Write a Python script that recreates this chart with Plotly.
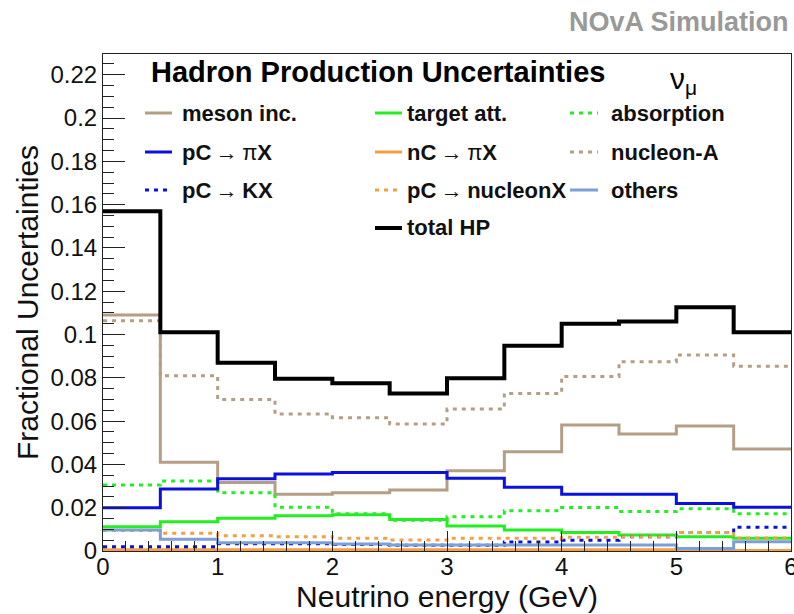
import plotly.graph_objects as go

# Bin edges in neutrino energy (GeV)
edges = [0.0, 0.5, 1.0, 1.5, 2.0, 2.5, 3.0, 3.5, 4.0, 4.5, 5.0, 5.5, 6.0]

# Fractional uncertainty per bin for each hadron-production component
meson_inc = [0.109, 0.041, 0.0316, 0.0262, 0.0269, 0.0282, 0.0371, 0.0459, 0.0582, 0.0540, 0.0577, 0.0471]
target_att = [0.0112, 0.0135, 0.0151, 0.0163, 0.0168, 0.0146, 0.0115, 0.0097, 0.0085, 0.0074, 0.0066, 0.0059]
absorption = [0.0305, 0.0323, 0.0269, 0.0202, 0.0172, 0.0142, 0.0158, 0.0186, 0.0201, 0.0183, 0.0195, 0.0172]
pc_pix = [0.0200, 0.0286, 0.0334, 0.0356, 0.0363, 0.0363, 0.0336, 0.0294, 0.0262, 0.0262, 0.0220, 0.0202]
nc_pix = [0.0006, 0.0006, 0.0006, 0.0006, 0.0006, 0.0006, 0.0006, 0.0006, 0.0006, 0.0006, 0.0002, 0.0002]
nucleon_a = [0.1064, 0.0810, 0.0700, 0.0633, 0.0616, 0.0587, 0.0656, 0.0728, 0.0806, 0.0874, 0.0905, 0.0854]
pc_kx = [0.0020, 0.0020, 0.0034, 0.0034, 0.0030, 0.0027, 0.0027, 0.0041, 0.0050, 0.0066, 0.0086, 0.0110]
pc_nucleonx = [0.0095, 0.0082, 0.0071, 0.0066, 0.0059, 0.0051, 0.0059, 0.0059, 0.0063, 0.0066, 0.0086, 0.0060]
others = [0.0097, 0.0054, 0.0038, 0.0038, 0.0032, 0.0028, 0.0028, 0.0028, 0.0028, 0.0028, 0.0012, 0.0043]
total_hp = [0.157, 0.101, 0.087, 0.0796, 0.0775, 0.0728, 0.0798, 0.0948, 0.1050, 0.1060, 0.1126, 0.1010]

labels = ["meson inc.", "target att.", "absorption",
          "pC → πX", "nC → πX", "nucleon-A",
          "pC → KX", "pC → nucleonX", "others", "total HP"]

FONT = "Liberation Sans, Arial, Helvetica, sans-serif"
DOT = "4px,5px"

series = [
    (meson_inc, "#b59e86", "solid", 3),
    (target_att, "#22ee22", "solid", 3),
    (absorption, "#22ee22", DOT, 3),
    (pc_pix, "#0a10e0", "solid", 3),
    (nc_pix, "#f5a040", "solid", 3),
    (nucleon_a, "#b59e86", DOT, 3),
    (pc_kx, "#0a10e0", DOT, 3),
    (pc_nucleonx, "#f5a040", DOT, 3),
    (others, "#7d9fd6", "solid", 3),
    (total_hp, "#000000", "solid", 4),
]

fig = go.Figure()
for (vals, color, dash, width), name in zip(series, labels):
    fig.add_trace(go.Scatter(
        x=edges, y=list(vals) + [vals[-1]], mode="lines", name=name,
        line=dict(color=color, dash=dash, width=width, shape="hv"),
        showlegend=False, hoverinfo="skip",
    ))

# Plot-area geometry in pixels (used to place legend and captions)
L, R, T, B = 103, 3, 54, 63
W, H = 794, 614
PW, PH = W - L - R, H - T - B


def px(xp):
    return (xp - L) / PW


def py(yp):
    return (H - B - yp) / PH


shapes = []
annotations = []

# Three-column legend: line sample + label
legend_cols = [(145, 172, 180), (375, 402, 405), (570, 598, 609)]
legend_rows = [113, 152, 190, 228]
layout_slots = [(0, 0), (1, 0), (2, 0), (0, 1), (1, 1), (2, 1), (0, 2), (1, 2), (2, 2), (1, 3)]

THIN = "\u2009"


def fmt_label(name):
    if "→" in name:
        a, b = name.split("→")
        b = b.strip()
        arrow = THIN + "→" + THIN
        if b.startswith("π"):
            return "<b>" + a.strip() + "</b>" + arrow + "π<b>" + b[1:] + "</b>"
        return "<b>" + a.strip() + "</b>" + arrow + "<b>" + b + "</b>"
    return "<b>" + name + "</b>"


for (vals, color, dash, width), name, (ci, ri) in zip(series, labels, layout_slots):
    x0, x1, xt = legend_cols[ci]
    yr = legend_rows[ri]
    shapes.append(dict(type="line", xref="paper", yref="paper",
                       x0=px(x0), x1=px(x1), y0=py(yr), y1=py(yr),
                       line=dict(color=color, dash=dash, width=width)))
    annotations.append(dict(xref="paper", yref="paper", x=px(xt), y=py(yr),
                            xanchor="left", yanchor="middle", showarrow=False,
                            text=fmt_label(name),
                            font=dict(family=FONT, size=22, color="#111111")))

annotations.append(dict(xref="paper", yref="paper", x=px(149), y=py(72),
                        xanchor="left", yanchor="middle", showarrow=False,
                        text="<b>Hadron Production Uncertainties</b>",
                        font=dict(family=FONT, size=29, color="#000000")))
annotations.append(dict(xref="paper", yref="paper", x=px(668), y=py(80),
                        xanchor="left", yanchor="middle", showarrow=False,
                        text="ν<sub>μ</sub>",
                        font=dict(family=FONT, size=30, color="#000000")))
annotations.append(dict(xref="paper", yref="paper", x=px(791), y=py(22),
                        xanchor="right", yanchor="middle", showarrow=False,
                        text="<b>NOvA Simulation</b>",
                        font=dict(family=FONT, size=27, color="#999999")))

fig.update_layout(
    width=W, height=H,
    margin=dict(l=L, r=R, t=T, b=B, autoexpand=False),
    paper_bgcolor="white", plot_bgcolor="white",
    shapes=shapes, annotations=annotations,
    font=dict(family=FONT, color="#111111"),
)

fig.update_xaxes(
    range=[0, 6], dtick=1, tick0=0, automargin=False,
    ticks="inside", ticklen=20, tickcolor="#222", tickwidth=1,
    minor=dict(dtick=0.2, ticks="inside", ticklen=10, tickcolor="#222", tickwidth=1),
    showgrid=False, zeroline=False,
    showline=True, linecolor="#222", linewidth=1, mirror=True,
    tickfont=dict(family=FONT, size=24, color="#111"), ticklabelstandoff=-6,
    ticklabeloverflow="allow",
    title=dict(text="Neutrino energy (GeV)", standoff=0,
               font=dict(family=FONT, size=30, color="#111")),
)
fig.update_yaxes(
    range=[0, 0.2296], dtick=0.02, tick0=0, automargin=False,
    ticks="inside", ticklen=22, tickcolor="#222", tickwidth=1,
    minor=dict(dtick=0.005, ticks="inside", ticklen=11, tickcolor="#222", tickwidth=1),
    showgrid=False, zeroline=False,
    showline=True, linecolor="#222", linewidth=1, mirror=True,
    tickfont=dict(family=FONT, size=24, color="#111"),
    title=dict(text="Fractional Uncertainties", standoff=2,
               font=dict(family=FONT, size=30, color="#111")),
)

fig.write_html("out.html")
